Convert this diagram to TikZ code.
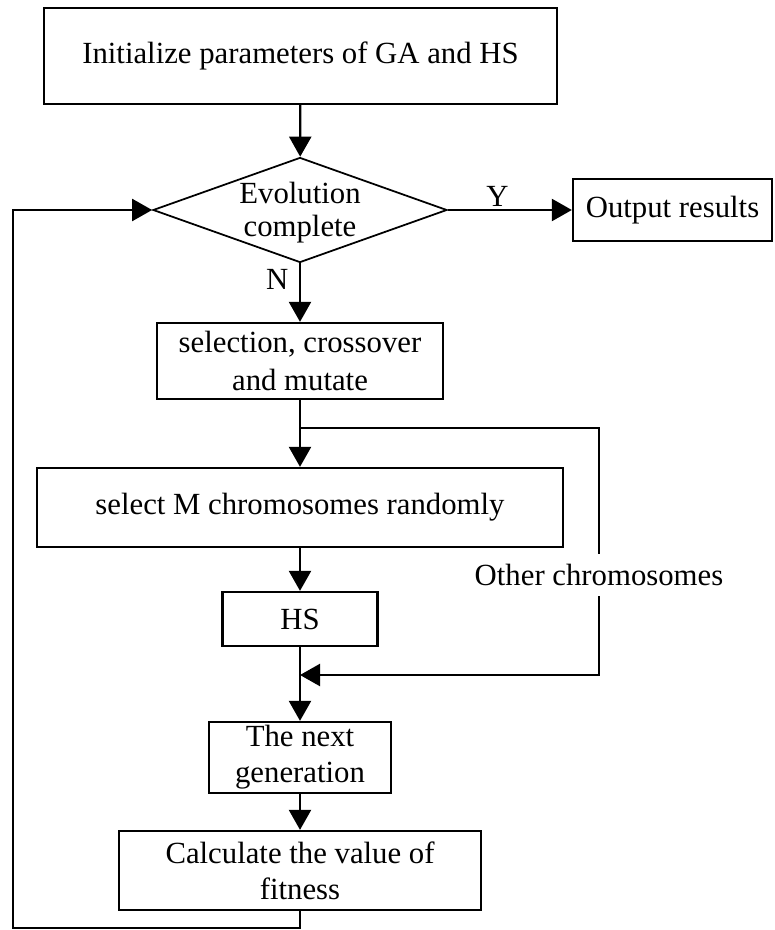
\documentclass[tikz,border=0pt]{standalone}
\usepackage{fontspec}
\setmainfont{Liberation Serif}
\usetikzlibrary{shapes.geometric,arrows.meta}

\begin{document}
\begin{tikzpicture}[>={Triangle[length=0.4cm,width=0.44cm]}, line width=1.3pt,
    font=\fontsize{17.5}{20.5}\selectfont,
    proc node/.style={rectangle,draw,align=center,inner sep=0pt},
    dec node/.style={diamond,draw,inner sep=0pt,line width=1pt,minimum width=5.88cm,minimum height=2.1cm}]

                \useasboundingbox (0,0) rectangle (15.48,-18.6);

                \node[proc node, minimum width=10.26cm, minimum height=1.92cm] at (6.01, -1.12) (init) {Initialize parameters of GA and HS};
                \node[dec node, label={[align=center, yshift=-0.05cm]center:Evolution\\[-1.5pt]complete}] at (6, -4.2) (dec) {};
                \node[proc node, minimum width=3.98cm, minimum height=1.24cm] at (13.45, -4.2) (out) {Output results};
                \node[proc node, minimum width=5.72cm, minimum height=1.52cm] at (6, -7.22) (sel) {selection, crossover\\[1.5pt]and mutate};
                \node[proc node, minimum width=10.52cm, minimum height=1.58cm] at (6, -10.15) (selm) {select M chromosomes randomly};
                \node[proc node, minimum width=3.1cm, minimum height=1.08cm] at (6, -12.38) (hs) {HS};
                \node[proc node, minimum width=3.64cm, minimum height=1.42cm] at (6, -15.15) (next) {The next\\generation};
                \node[proc node, minimum width=7.24cm, minimum height=1.58cm] at (6, -17.41) (calc) {Calculate the value of\\fitness};
                \node[inner sep=0pt, minimum height=0.8cm] at (11.98, -11.5) (oc) {Other chromosomes};

                \coordinate (jn) at (6, -8.56);
                \coordinate (mg) at (6, -13.5);
                \coordinate (lb) at (0.26, -18.56);

                \path[->] (init) edge (dec);
                \path[->] (dec) edge node[above, pos=0.4, inner sep=1.5pt] {Y} (out);
                \path[->] (dec) edge node[left, pos=0.27, inner sep=6pt] {N} (sel);
                \path[->] (sel) edge (selm);
                \path[->] (selm) edge (hs);
                \path[->] (hs) edge (next);
                \path[->] (next) edge (calc);

                \draw (jn) -| (oc.north);
                \draw[->] (oc.south) |- (mg);
                \draw[->] (calc.south) |- (lb) |- (dec.west);
            \end{tikzpicture}
\end{document}
